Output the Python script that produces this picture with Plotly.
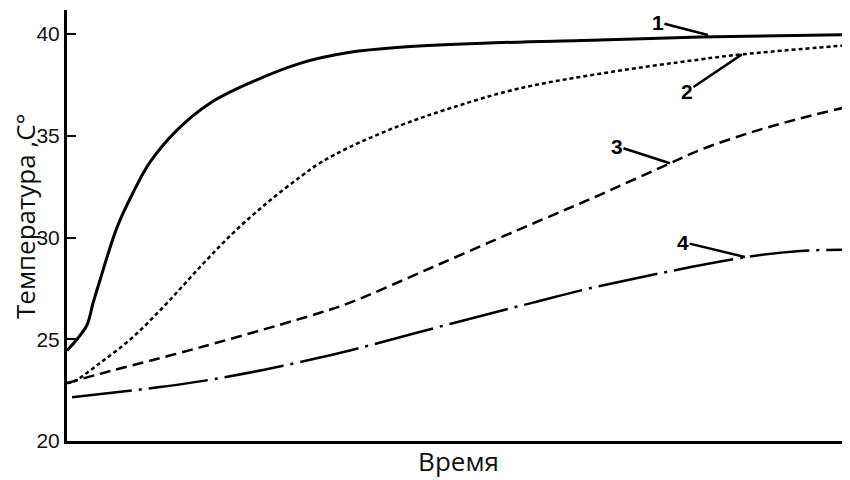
import plotly.graph_objects as go

# Curve 1 (solid)
t1 = [0, 1.28, 2.55, 3.32, 4.21, 6.39, 8.43, 10.6, 14.05, 18.26, 23.37, 29.76, 36.14, 42.53, 53.13, 68.07, 80.84, 100]
v1 = [24.45, 25.0, 25.7, 26.77, 27.9, 30.5, 32.2, 33.7, 35.28, 36.6, 37.6, 38.56, 39.1, 39.35, 39.55, 39.7, 39.85, 39.97]
# Curve 2 (dotted)
t2 = [0, 0.77, 4.21, 8.43, 12.77, 16.99, 21.2, 25.54, 29.76, 32.31, 36.14, 42.53, 48.91, 57.47, 68.07, 80.84, 86.21, 100]
v2 = [22.85, 22.9, 23.83, 25.11, 26.78, 28.55, 30.22, 31.7, 32.97, 33.66, 34.45, 35.5, 36.35, 37.3, 38.05, 38.75, 39.0, 39.46]
# Curve 3 (dashed)
t3 = [0, 4.21, 16.99, 32.31, 36.14, 46.74, 57.47, 63.86, 68.07, 77.01, 80.84, 87.23, 93.61, 100]
v3 = [22.85, 23.3, 24.6, 26.3, 26.8, 28.55, 30.35, 31.4, 32.1, 33.65, 34.3, 35.15, 35.85, 36.45]
# Curve 4 (dash-dot)
t4 = [0.64, 11.88, 16.99, 25.03, 32.31, 36.14, 48.91, 59.51, 68.07, 86.84, 93.61, 99.1]
v4 = [22.15, 22.65, 22.93, 23.49, 24.1, 24.45, 25.75, 26.8, 27.62, 29.04, 29.34, 29.4]

labels = ["1", "2", "3", "4"]
label_x = [81.86, 86.2, 77.0, 86.6]
label_y = [39.95, 39.0, 33.65, 29.04]
label_ax = [-50, -55, -53, -62]
label_ay = [-13, 37, -17, -15]

fig = go.Figure()
fig.add_trace(go.Scatter(x=t1, y=v1, mode="lines", line=dict(color="black", width=3, shape="spline"), showlegend=False))
fig.add_trace(go.Scatter(x=t2, y=v2, mode="lines", line=dict(color="black", width=2.5, dash="4px,3px", shape="spline"), showlegend=False))
fig.add_trace(go.Scatter(x=t3, y=v3, mode="lines", line=dict(color="black", width=2.5, dash="11px,6px", shape="spline"), showlegend=False))
fig.add_trace(go.Scatter(x=t4, y=v4, mode="lines", line=dict(color="black", width=2.5, dash="60px,7px,3px,7px", shape="spline"), showlegend=False))

for lab, x, y, ax, ay in zip(labels, label_x, label_y, label_ax, label_ay):
    fig.add_annotation(x=x, y=y, text="<b>" + lab + "</b>", showarrow=True, arrowhead=0,
                       arrowwidth=2.5, arrowcolor="black", ax=ax, ay=ay, borderpad=0,
                       font=dict(size=21, color="black", family="Liberation Sans"))

# Y axis title (rotated text left of tick labels)
fig.add_annotation(xref="paper", yref="paper", x=0, y=0.522, xshift=-42, xanchor="center", yanchor="middle",
                   text="Температура ,С°", textangle=-90, showarrow=False, borderpad=0,
                   font=dict(size=26, family="Open Sans", color="#111"))

fig.update_layout(
    width=842, height=472,
    margin=dict(l=59, r=0, t=2, b=39),
    plot_bgcolor="white", paper_bgcolor="white",
    font=dict(family="Liberation Sans", color="#111", size=20),
    xaxis=dict(range=[0, 100], showline=True, linewidth=3, linecolor="black",
               showticklabels=False, ticks="", showgrid=False, zeroline=False, automargin=False,
               title=dict(text="Время", standoff=10, font=dict(size=26, family="Open Sans"))),
    yaxis=dict(range=[20, 41.18], showline=True, linewidth=3, linecolor="black",
               tickvals=[20, 25, 30, 35, 40], ticks="inside", ticklen=9, tickwidth=2,
               tickcolor="black", showgrid=False, zeroline=False, automargin=False,
               ticksuffix="\u00a0",
               tickfont=dict(size=21, family="Liberation Sans")),
)

fig.write_html("out.html")
